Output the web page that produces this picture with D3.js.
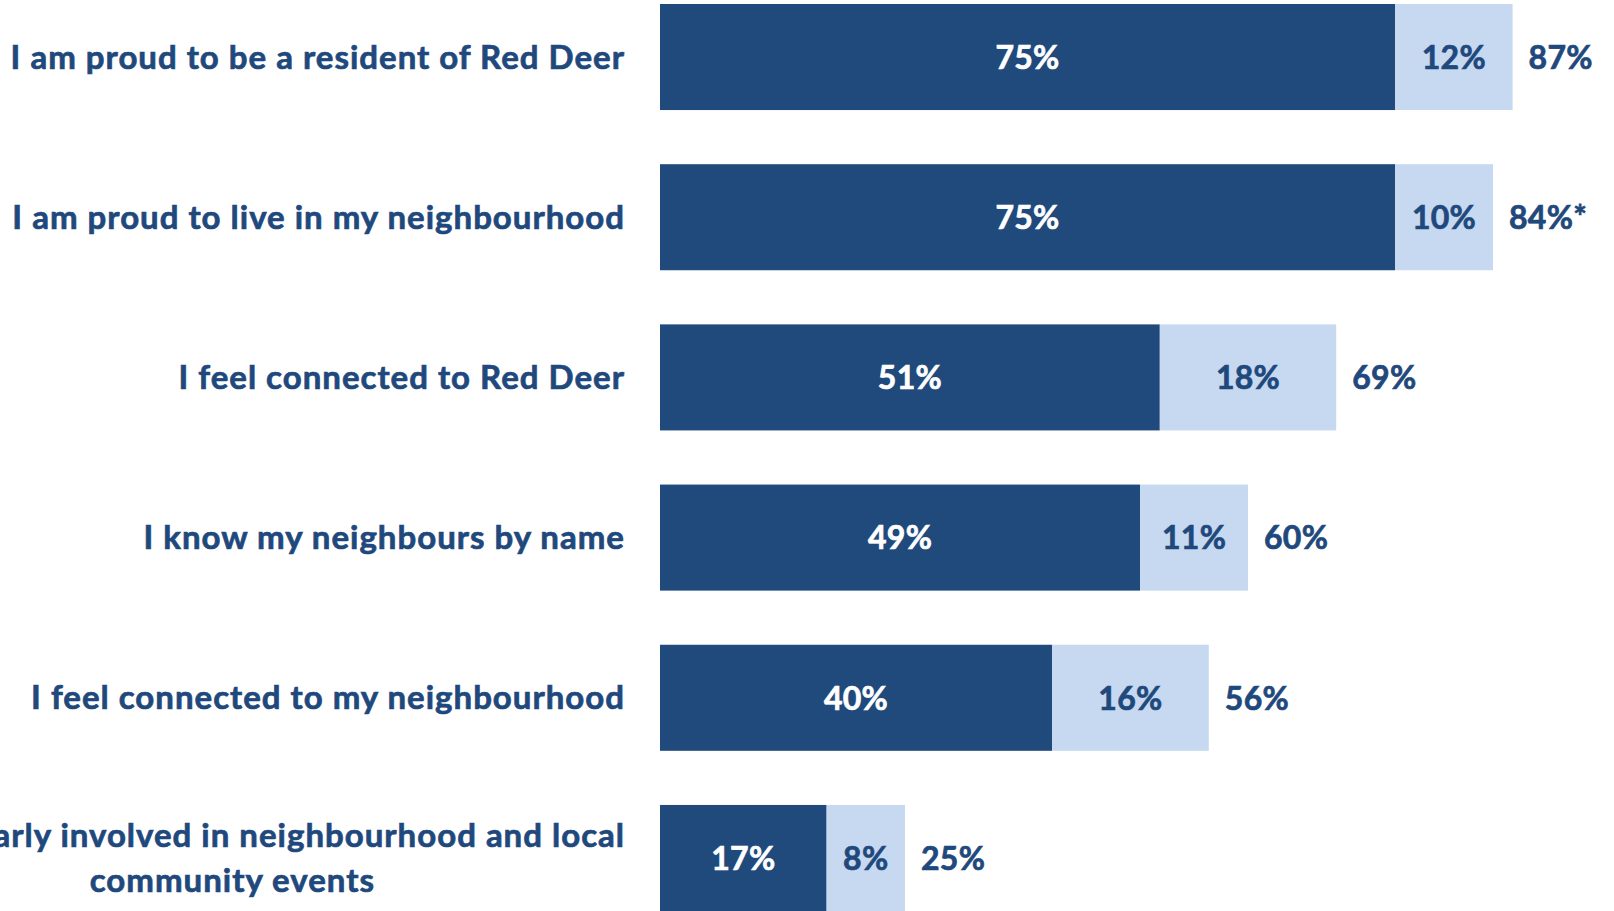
<!DOCTYPE html>
<html><head><meta charset="utf-8">
<script src="https://cdn.jsdelivr.net/npm/d3@7"></script>
<style>html,body{margin:0;padding:0;background:#fff;overflow:hidden}</style>
</head><body>
<svg id="chart" width="1614" height="911"></svg>
<script>
const categories = [
  "I am proud to be a resident of Red Deer",
  "I am proud to live in my neighbourhood",
  "I feel connected to Red Deer",
  "I know my neighbours by name",
  "I feel connected to my neighbourhood",
  "I am regularly involved in neighbourhood and local|community events"
];
const strongly = [75, 75, 51, 49, 40, 17];
const somewhat = [12, 10, 18, 11, 16, 8];
const totalLabels = ["87%", "84%*", "69%", "60%", "56%", "25%"];

const dark = "#204a7c", light = "#c6d9f0", textBlue = "#1f497d";
const fontFam = "Lato, 'Open Sans', sans-serif";
const svg = d3.select("#chart");
const x = d3.scaleLinear().domain([0, 100]).range([660, 1640]);
const y = d3.scaleBand().domain(d3.range(categories.length)).range([4, 911]).paddingInner(0.338).paddingOuter(0);
const data = categories.map((c, i) => ({c, i, a: strongly[i], b: somewhat[i], t: totalLabels[i]}));

const g = svg.append("g");
g.selectAll("rect.a").data(data).join("rect").attr("class","a")
  .attr("x", x(0)).attr("y", d => y(d.i)).attr("width", d => x(d.a) - x(0))
  .attr("height", y.bandwidth()).attr("fill", dark);
g.selectAll("rect.b").data(data).join("rect").attr("class","b")
  .attr("x", d => x(d.a)).attr("y", d => y(d.i)).attr("width", d => x(d.a + d.b) - x(d.a))
  .attr("height", y.bandwidth()).attr("fill", light);

const vfs = 32, lfs = 33, labelX = 625;
const cy = d => y(d.i) + y.bandwidth() / 2;
function styleText(sel, size, color, ls) {
  return sel.attr("fill", color).attr("stroke", color).attr("stroke-width", 0.7)
    .style("font", `bold ${size}px ${fontFam}`).style("letter-spacing", ls + "px");
}
styleText(g.selectAll("text.va").data(data).join("text").attr("class","va")
  .attr("x", d => (x(0) + x(d.a)) / 2).attr("y", cy).attr("dy", "0.37em")
  .attr("text-anchor", "middle"), vfs, "#fff", 0.3).text(d => d.a + "%");
styleText(g.selectAll("text.vb").data(data).join("text").attr("class","vb")
  .attr("x", d => (x(d.a) + x(d.a + d.b)) / 2).attr("y", cy).attr("dy", "0.37em")
  .attr("text-anchor", "middle"), vfs, textBlue, 0.3).text(d => d.b + "%");
styleText(g.selectAll("text.vt").data(data).join("text").attr("class","vt")
  .attr("x", d => x(d.a + d.b) + 16).attr("y", cy).attr("dy", "0.37em")
  .attr("text-anchor", "start"), vfs, textBlue, 0.3).text(d => d.t);

// category labels
data.forEach(d => {
  const lines = d.c.split("|");
  const grp = g.append("g");
  if (lines.length === 1) {
    styleText(grp.append("text").attr("x", labelX).attr("y", cy(d)).attr("dy", "0.35em")
      .attr("text-anchor", "end"), lfs, textBlue, 1).text(lines[0]);
  } else {
    const t1 = styleText(grp.append("text").attr("x", labelX).attr("y", cy(d) - 22.5).attr("dy", "0.35em")
      .attr("text-anchor", "end"), lfs, textBlue, 1).text(lines[0]);
    const w = t1.node().getComputedTextLength();
    styleText(grp.append("text").attr("x", labelX - w / 2).attr("y", cy(d) + 22.5).attr("dy", "0.35em")
      .attr("text-anchor", "middle"), lfs, textBlue, 1).text(lines[1]);
  }
});
</script>
</body></html>
